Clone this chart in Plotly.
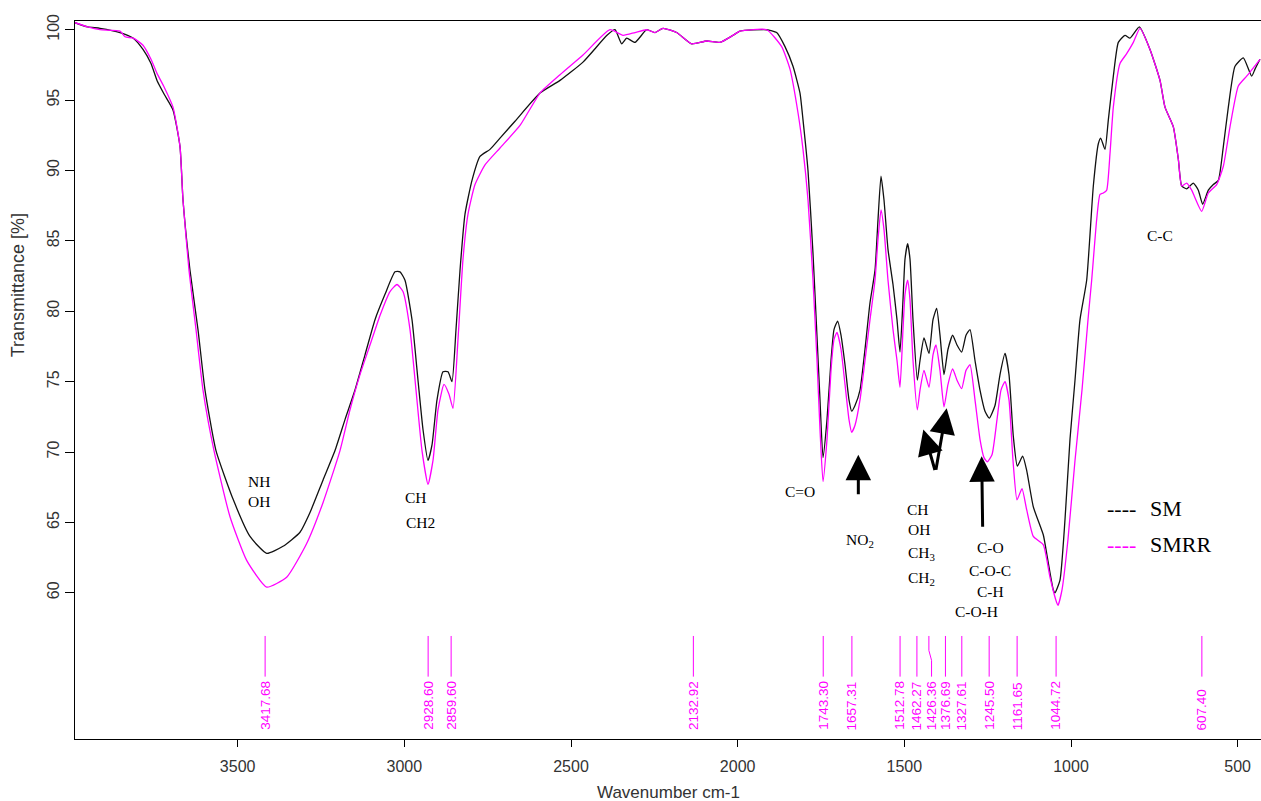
import plotly.graph_objects as go

# ---------------- data ----------------
sm_wn = [3988, 3950, 3913, 3853, 3813, 3784, 3760, 3742, 3720, 3694, 3673, 3664, 3643, 3619, 3598, 3565,
         3513, 3463, 3413, 3364, 3313, 3283, 3244, 3208, 3178, 3148, 3118, 3088, 3058, 3028, 3013, 2998,
         2977, 2959, 2944, 2929, 2917, 2902, 2884, 2869, 2857, 2845, 2833, 2818, 2797, 2773, 2743, 2713,
         2668, 2593, 2533, 2464, 2392, 2368, 2348, 2333, 2308, 2273, 2248, 2224, 2183, 2138, 2093, 2053,
         2014, 1993, 1913, 1883, 1858, 1834, 1813, 1804, 1789, 1774, 1762, 1753, 1744, 1732, 1720, 1711,
         1700, 1690, 1678, 1666, 1658, 1648, 1633, 1618, 1603, 1588, 1579, 1570, 1561, 1549, 1534, 1522,
         1513, 1504, 1498, 1490, 1483, 1474, 1461, 1453, 1441, 1426, 1414, 1403, 1393, 1381, 1369, 1355,
         1342, 1328, 1315, 1303, 1288, 1273, 1258, 1245, 1228, 1213, 1198, 1186, 1173, 1161, 1145, 1133,
         1113, 1083, 1073, 1053, 1048, 1033, 1018, 1003, 988, 973, 953, 933, 918, 911, 898, 888, 873, 858,
         838, 823, 795, 763, 733, 718, 693, 678, 668, 653, 633, 618, 605, 588, 573, 558, 543, 528, 508, 483,
         458, 448, 433]
sm_t = [100.5, 100.2, 100.1, 99.8, 99.4, 98.6, 97.6, 96.4, 95.4, 94.3, 91.7, 87.9, 82.9, 78.7, 74.4, 70.1,
        66.6, 64.0, 62.8, 63.3, 64.3, 65.7, 68.0, 70.1, 72.3, 74.4, 76.9, 79.4, 81.2, 82.8, 82.8, 82.2,
        79.4, 75.1, 71.6, 69.4, 70.5, 73.7, 75.7, 75.7, 75.0, 78.7, 82.9, 86.9, 89.3, 91.0, 91.5, 92.3,
        93.5, 95.5, 96.4, 97.7, 99.6, 100.0, 99.0, 99.4, 99.1, 100.0, 99.8, 100.1, 99.8, 99.0, 99.2, 99.1,
        99.6, 99.9, 100.0, 99.8, 98.8, 97.4, 95.5, 93.6, 90.0, 84.1, 78.2, 73.7, 69.6, 72.3, 76.5, 78.7,
        79.3, 78.3, 76.2, 73.7, 72.9, 73.3, 74.4, 77.3, 80.6, 82.9, 86.5, 89.6, 87.9, 84.4, 81.9, 79.4,
        77.1, 80.8, 83.7, 84.8, 83.7, 79.4, 75.1, 76.5, 78.1, 77.0, 79.4, 80.2, 78.3, 75.5, 77.3, 78.3,
        77.6, 77.1, 78.3, 78.7, 76.5, 74.4, 72.9, 72.4, 73.3, 75.5, 77.0, 75.5, 71.1, 69.0, 69.7, 68.7,
        66.1, 64.1, 62.8, 60.2, 60.0, 60.9, 65.2, 70.9, 75.1, 79.4, 82.2, 88.9, 91.9, 92.3, 91.5, 93.6, 96.7, 99.1,
        99.6, 99.4, 100.2, 98.6, 96.4, 94.5, 93.1, 90.8, 88.9, 88.7, 89.1, 88.6, 87.6, 88.6, 89.0, 89.3, 91.7, 94.5, 97.4, 98.0,
        96.7, 97.2, 97.9]

smrr_wn = [3988, 3950, 3913, 3853, 3838, 3813, 3784, 3760, 3742, 3720, 3694, 3673, 3664, 3646, 3625, 3604, 3571,
           3523, 3473, 3413, 3353, 3293, 3244, 3193, 3163, 3133, 3103, 3073, 3043, 3022, 3004, 2983, 2965,
           2947, 2929, 2914, 2899, 2881, 2866, 2854, 2839, 2824, 2809, 2788, 2758, 2713, 2653, 2593, 2533,
           2464, 2383, 2344, 2308, 2273, 2248, 2224, 2183, 2138, 2093, 2053, 2014, 1993, 1913, 1868, 1843,
           1819, 1804, 1789, 1774, 1762, 1753, 1744, 1732, 1720, 1711, 1702, 1690, 1678, 1666, 1658, 1648,
           1633, 1618, 1603, 1588, 1579, 1570, 1561, 1549, 1534, 1522, 1513, 1504, 1498, 1490, 1483, 1474,
           1461, 1453, 1441, 1426, 1414, 1405, 1393, 1381, 1369, 1355, 1342, 1328, 1315, 1303, 1288, 1273,
           1261, 1251, 1237, 1222, 1210, 1198, 1186, 1174, 1162, 1147, 1133, 1113, 1083, 1063, 1043, 1039,
           1027, 1009, 988, 967, 949, 938, 923, 913, 903, 893, 883, 873, 853, 833, 813, 793, 763, 733, 718,
           693, 678, 668, 653, 638, 608, 588, 563, 543, 523, 498, 473, 433]
smrr_t = [100.5, 100.2, 100.0, 99.9, 99.5, 99.4, 98.9, 97.9, 96.9, 95.9, 94.5, 91.7, 87.9, 82.9, 78.7, 74.4, 70.1,
          65.4, 62.3, 60.4, 61.1, 63.5, 66.4, 70.1, 73.0, 75.5, 77.6, 79.7, 81.4, 81.9, 81.4, 78.7, 74.4,
          70.1, 67.7, 69.4, 73.0, 74.8, 74.1, 73.1, 78.0, 83.7, 86.9, 89.0, 90.4, 91.6, 93.2, 95.5, 96.8,
          98.2, 100.0, 99.6, 99.8, 100.0, 99.8, 100.1, 99.8, 99.0, 99.2, 99.1, 99.6, 99.9, 100.0, 98.8, 97.2,
          94.1, 91.5, 87.9, 82.2, 76.5, 71.6, 67.9, 70.9, 75.8, 78.0, 78.5, 77.3, 74.8, 72.3, 71.4, 71.9,
          73.7, 76.5, 79.4, 82.2, 85.1, 87.2, 85.8, 82.2, 78.7, 76.5, 74.6, 78.7, 81.2, 82.2, 80.8, 76.5,
          73.0, 74.4, 75.8, 74.6, 76.9, 77.6, 75.8, 73.2, 74.8, 75.9, 75.1, 74.5, 75.8, 76.2, 73.7, 70.9,
          69.6, 69.3, 69.8, 72.3, 74.4, 75.0, 73.7, 69.4, 66.6, 67.4, 65.9, 64.0, 63.4, 61.1, 59.3, 59.1,
          60.2, 63.8, 69.4, 74.4, 79.4, 82.2, 86.5, 88.3, 88.4, 88.6, 91.2, 94.5, 97.6, 98.3, 99.1, 100.1, 98.6, 96.4, 94.5,
          93.1, 90.8, 88.9, 89.1, 88.6, 87.1, 88.4, 89.0, 90.3, 93.1, 96.0, 96.7, 97.9]

peak_labels = ["3417.68", "2928.60", "2859.60", "2132.92", "1743.30", "1657.31", "1512.78",
               "1462.27", "1426.36", "1376.69", "1327.61", "1245.50", "1161.65", "1044.72", "607.40"]

x_ticks = [500, 1000, 1500, 2000, 2500, 3000, 3500]
y_ticks = [60, 65, 70, 75, 80, 85, 90, 95, 100]

series_names = ["SM", "SMRR"]

# ---------------- figure ----------------
MAG = "#FF00FF"
fig = go.Figure()
fig.add_trace(go.Scatter(x=sm_wn, y=sm_t, mode="lines", name=series_names[0],
                         line=dict(color="#111111", width=1.3, shape="spline", smoothing=0.5),
                         showlegend=False))
fig.add_trace(go.Scatter(x=smrr_wn, y=smrr_t, mode="lines", name=series_names[1],
                         line=dict(color=MAG, width=1.3, shape="spline", smoothing=0.5),
                         showlegend=False))

# peak marker lines
line_top, line_bot, text_base = 56.93, 54.04, 50.1
lx, ly = [], []
label_pos = {}
for lab in peak_labels:
    v = float(lab)
    if lab == "1426.36":
        shift = v - 8
        lx += [v, v, shift, shift, None]
        ly += [line_top, 55.9, 55.2, line_bot, None]
        label_pos[lab] = shift
    else:
        lx += [v, v, None]
        ly += [line_top, line_bot, None]
        label_pos[lab] = v
fig.add_trace(go.Scatter(x=lx, y=ly, mode="lines", line=dict(color=MAG, width=1),
                         showlegend=False, hoverinfo="skip"))

ann = []
for lab in peak_labels:
    ann.append(dict(x=label_pos[lab], y=text_base, xref="x", yref="y", text=lab, showarrow=False,
                    textangle=-90, xanchor="center", yanchor="bottom",
                    font=dict(family="Liberation Sans", size=13.5, color=MAG)))

serif = dict(family="Liberation Serif", size=15.5, color="black")
notes = [
    ("NH", 3436, 67.9), ("OH", 3436, 66.5),
    ("CH", 2965, 66.8), ("CH2", 2953, 65.0),
    ("C=O", 1813, 67.2), ("NO<sub>2</sub>", 1633, 63.7),
    ("CH", 1459, 65.9), ("OH", 1455, 64.5), ("CH<sub>3</sub>", 1448, 62.8), ("CH<sub>2</sub>", 1448, 61.0),
    ("C-O", 1243, 63.2), ("C-O-C", 1243, 61.6), ("C-H", 1243, 60.1), ("C-O-H", 1283, 58.7),
    ("C-C", 733, 85.4),
]
for t, x, y in notes:
    ann.append(dict(x=x, y=y, xref="x", yref="y", text=t, showarrow=False, font=serif))

# arrows (tip at x,y; tail offset in pixels)
arrows = [(1638, 69.8, 0, 41), (1443, 71.6, 12, 42), (1373, 73.1, -11, 63), (1268, 69.7, 1, 72)]
for x, y, axp, ayp in arrows:
    ann.append(dict(x=x, y=y, xref="x", yref="y", ax=axp, ay=ayp, text="", showarrow=True,
                    arrowhead=2, arrowsize=1.7, arrowwidth=3, arrowcolor="black", standoff=0))

# legend (drawn as text)
leg_font = dict(family="Liberation Serif", size=22, color="black")
ann.append(dict(x=850, y=66.0, xref="x", yref="y", text="----", showarrow=False,
                font=dict(family="Liberation Serif", size=22, color="black")))
ann.append(dict(x=769, y=66.0, xref="x", yref="y", text=series_names[0], showarrow=False,
                xanchor="left", font=leg_font))
ann.append(dict(x=850, y=63.4, xref="x", yref="y", text="----", showarrow=False,
                font=dict(family="Liberation Serif", size=22, color=MAG)))
ann.append(dict(x=769, y=63.4, xref="x", yref="y", text=series_names[1], showarrow=False,
                xanchor="left", font=leg_font))

# axis titles
ann.append(dict(x=-0.048, y=0.632, xref="paper", yref="paper", text="Transmittance [%]",
                textangle=-90, showarrow=False, xanchor="center", yanchor="middle",
                font=dict(family="Liberation Sans", size=18, color="#333333")))
ann.append(dict(x=0.5, y=-0.075, xref="paper", yref="paper", text="Wavenumber cm-1",
                showarrow=False, xanchor="center", yanchor="middle",
                font=dict(family="Liberation Sans", size=17, color="#333333")))

fig.update_layout(
    width=1261, height=801,
    margin=dict(l=75, r=0, t=21, b=62),
    paper_bgcolor="white", plot_bgcolor="white",
    annotations=ann,
    showlegend=False,
)
fig.update_xaxes(range=[3988, 430], tickvals=x_ticks, ticktext=[str(v) for v in x_ticks],
                 showgrid=False, zeroline=False, showline=True, linecolor="black", linewidth=1,
                 mirror=True, ticks="outside", ticklen=7, tickcolor="black", ticklabelstandoff=6,
                 tickfont=dict(family="Liberation Sans", size=16, color="#333333"))
fig.update_yaxes(range=[49.61, 100.62], tickvals=y_ticks, ticktext=[str(v) for v in y_ticks],
                 showgrid=False, zeroline=False, showline=True, linecolor="black", linewidth=1,
                 ticks="outside", ticklen=9, tickcolor="black", tickangle=-90,
                 tickfont=dict(family="Liberation Sans", size=16, color="#333333"))

fig.write_html("out.html")
